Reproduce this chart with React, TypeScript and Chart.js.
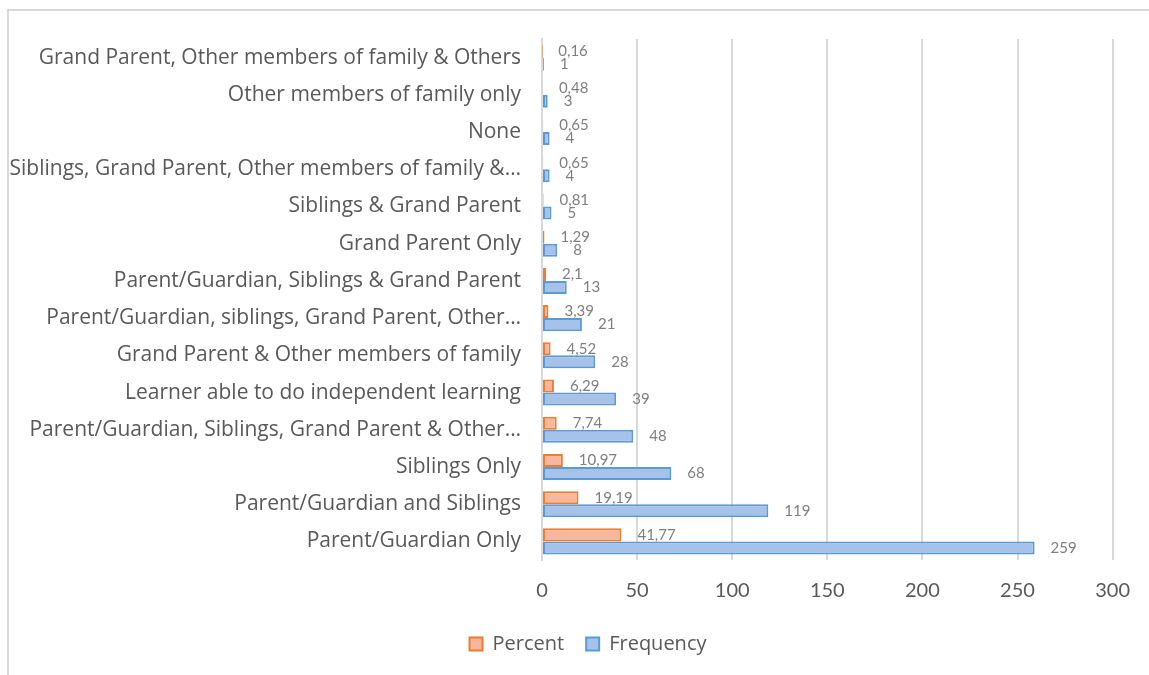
import React, { useEffect, useRef } from "react";
import { Chart, registerables } from "chart.js";

Chart.register(...registerables);

const categories = [
  "Grand Parent, Other members of family & Others",
  "Other members of family only",
  "None",
  "Siblings, Grand Parent, Other members of family &…",
  "Siblings & Grand Parent",
  "Grand Parent Only",
  "Parent/Guardian, Siblings & Grand Parent",
  "Parent/Guardian, siblings, Grand Parent, Other…",
  "Grand Parent & Other members of family",
  "Learner able to do independent learning",
  "Parent/Guardian, Siblings, Grand Parent & Other…",
  "Siblings Only",
  "Parent/Guardian and Siblings",
  "Parent/Guardian Only",
];

const percentValues = [0.16, 0.48, 0.65, 0.65, 0.81, 1.29, 2.1, 3.39, 4.52, 6.29, 7.74, 10.97, 19.19, 41.77];
const frequencyValues = [1, 3, 4, 4, 5, 8, 13, 21, 28, 39, 48, 68, 119, 259];
const xTicks = [0, 50, 100, 150, 200, 250, 300];

const FONT = "Lato, 'Open Sans', sans-serif";
const CAT_FONT = "'Open Sans', Lato, sans-serif";
const TEXT = "#595959";

const labelPlugin = {
  id: "valueLabels",
  afterLayout(chart: any) {
    if (chart.legend) {
      chart.legend.left += 31;
      chart.legend.right += 31;
    }
  },
  afterDatasetsDraw(chart: any) {
    const ctx = chart.ctx;
    ctx.save();
    ctx.font = `15px ${FONT}`;
    ctx.fillStyle = "#7f7f7f";
    ctx.textAlign = "left";
    ctx.textBaseline = "middle";
    chart.data.datasets.forEach((ds: any, di: number) => {
      const meta = chart.getDatasetMeta(di);
      meta.data.forEach((el: any, i: number) => {
        const v = ds.data[i];
        const txt = String(v).replace(".", ",");
        ctx.fillText(txt, el.x + 16, el.y);
      });
    });
    ctx.restore();
  },
};

export default function App() {
  const ref = useRef<HTMLCanvasElement | null>(null);
  useEffect(() => {
    if (!ref.current) return;
    const chart = new Chart(ref.current, {
      type: "bar",
      data: {
        labels: categories,
        datasets: [
          {
            label: "Percent",
            data: percentValues,
            backgroundColor: "#f7b79c",
            borderColor: "#ed7d31",
            borderWidth: 2,
            borderSkipped: false,
            barPercentage: 1,
            categoryPercentage: 0.7,
          },
          {
            label: "Frequency",
            data: frequencyValues,
            backgroundColor: "#a7c2e8",
            borderColor: "#5b9bd5",
            borderWidth: 2,
            borderSkipped: false,
            barPercentage: 1,
            categoryPercentage: 0.7,
          },
        ],
      },
      options: {
        indexAxis: "y",
        animation: false,
        responsive: false,
        maintainAspectRatio: false,
        layout: { padding: { top: 39, right: 35, left: 0, bottom: 11 } },
        plugins: {
          legend: {
            position: "bottom",
            labels: {
              font: { family: CAT_FONT, size: 20 },
              color: TEXT,
              boxWidth: 13,
              boxHeight: 13,
              padding: 22,
            },
          },
          tooltip: { enabled: false },
        },
        scales: {
          x: {
            min: 0,
            max: 300,
            afterBuildTicks: (s: any) => {
              s.ticks = xTicks.map((v) => ({ value: v }));
            },
            afterFit: (s: any) => {
              s.height = 52;
            },
            grid: { color: "#d9d9d9", lineWidth: 2, drawTicks: false },
            border: { display: false },
            ticks: {
              font: { family: FONT, size: 20 },
              color: TEXT,
              padding: 19,
            },
          },
          y: {
            afterFit: (s: any) => {
              s.width = 542;
            },
            grid: { display: false },
            border: { display: true, color: "#d9d9d9", width: 2 },
            ticks: {
              font: { family: CAT_FONT, size: 21 },
              color: TEXT,
              padding: 13,
              autoSkip: false,
            },
          },
        },
      },
      plugins: [labelPlugin],
    } as any);
    return () => chart.destroy();
  }, []);

  return (
    <div style={{ position: "fixed", left: 0, top: 0, width: 1149, height: 675, background: "#fff", overflow: "hidden" }}>
      <div
        style={{
          position: "absolute",
          left: 7,
          top: 9,
          width: 1200,
          height: 700,
          borderLeft: "2px solid #d9d9d9",
          borderTop: "2px solid #d9d9d9",
        }}
      />
      <canvas ref={ref} width={1149} height={675} style={{ position: "absolute", left: 0, top: 0 }} />
    </div>
  );
}
